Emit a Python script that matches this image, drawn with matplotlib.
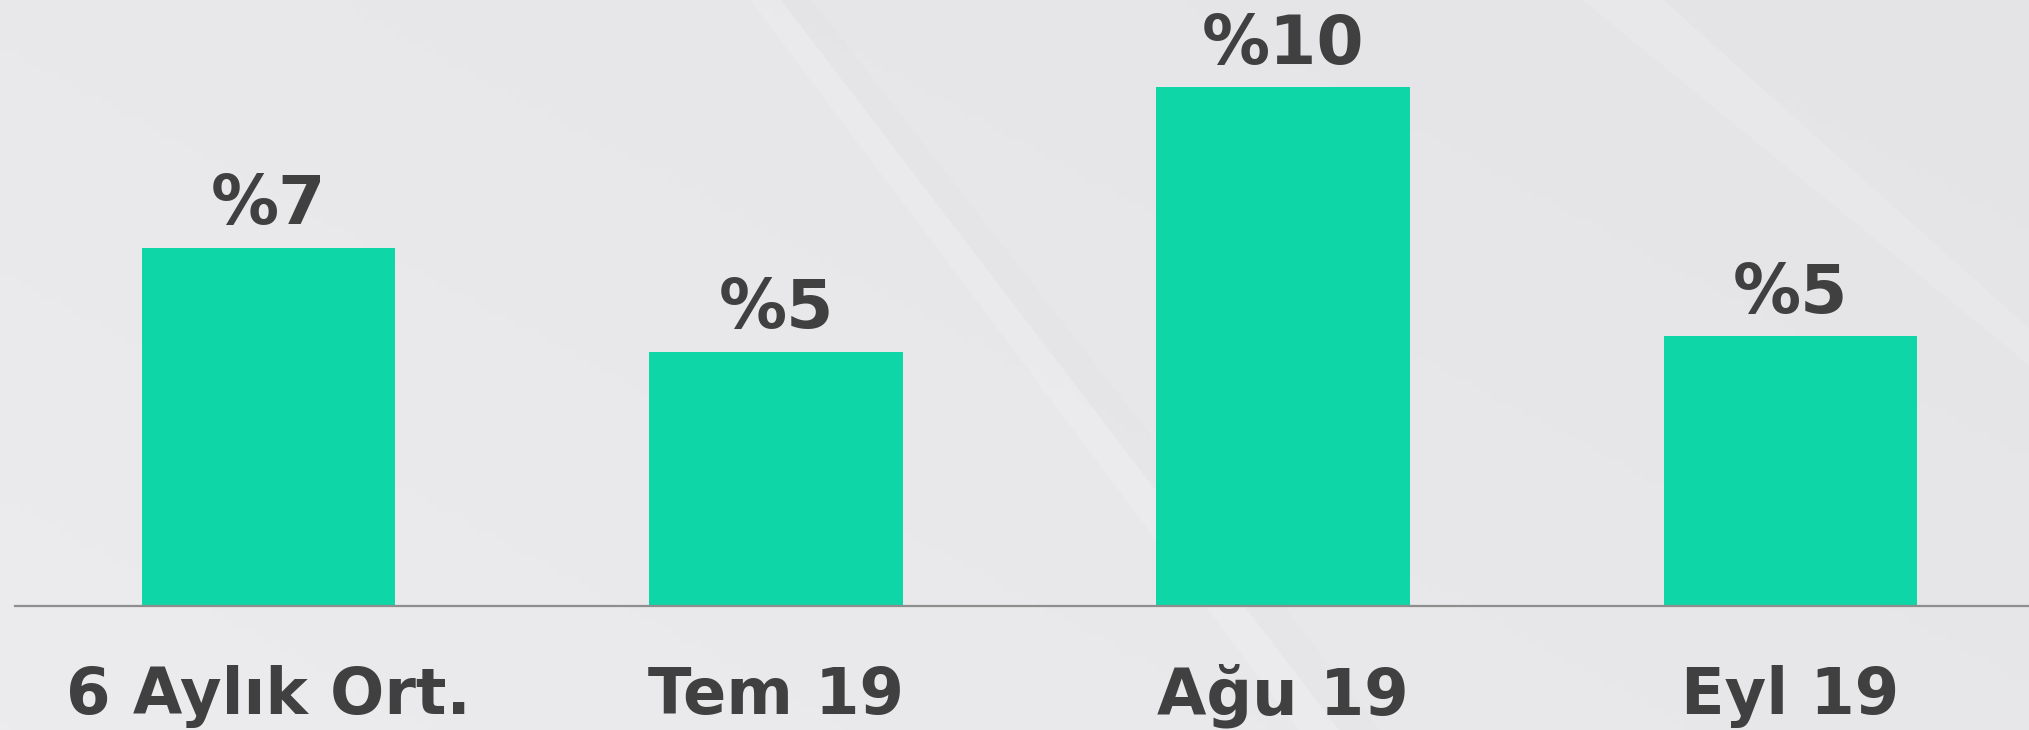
import numpy as np
import matplotlib
matplotlib.use("Agg")
import matplotlib.pyplot as plt

# data
categories = ["6 Aylık Ort.", "Tem 19", "Ağu 19", "Eyl 19"]
values = [6.9, 4.9, 10.0, 5.2]
value_labels = ["%7", "%5", "%10", "%5"]

BAR_COLOR = "#0fd6a7"
TEXT_COLOR = "#404040"
BG_COLOR = "#eaeaec"

plt.rcParams['font.family'] = ['DejaVu Sans']

fig = plt.figure(figsize=(20.29, 7.30), dpi=100)
fig.patch.set_facecolor(BG_COLOR)

# soft background: light grey gradient with faint diagonal bands
bg = fig.add_axes([0, 0, 1, 1])
bg.set_xlim(0, 1)
bg.set_ylim(0, 1)
bg.axis("off")
yy, xx = np.mgrid[0:1:100j, 0:1:200j]
light = np.array([236, 236, 238]) / 255
dark = np.array([228, 228, 231]) / 255
t = np.clip(0.6 * xx + 0.4 * yy, 0, 1)[..., None]
grad = light * (1 - t) + dark * t
bg.imshow(grad, extent=[0, 1, 0, 1], origin="lower", aspect="auto")
bg.fill([0.37, 0.385, 0.66, 0.64], [1, 1, 0, 0], color="white", alpha=0.15, lw=0)
bg.fill([0.385, 0.40, 0.68, 0.66], [1, 1, 0, 0], color="#d8d8dc", alpha=0.12, lw=0)
bg.fill([0.78, 0.82, 1.0, 1.0], [1, 1, 0.55, 0.50], color="white", alpha=0.15, lw=0)

ax = fig.add_axes([15 / 2029, 124 / 730, 1 - 15 / 2029, 606 / 730])
ax.set_facecolor("none")
x = np.arange(len(categories))
bars = ax.bar(x, values, width=0.5, color=BAR_COLOR, zorder=2)

ax.set_xlim(-0.5, 3.47)
ax.set_ylim(0, 11.68)

for rect, lab in zip(bars, value_labels):
    ax.annotate(lab, (rect.get_x() + rect.get_width() / 2, rect.get_height()),
                xytext=(0, 17), textcoords="offset points", ha="center",
                va="baseline", fontsize=49, fontweight="bold", color=TEXT_COLOR)

ax.set_xticks(x)
ax.set_xticklabels(categories, fontsize=46, fontweight="bold", color=TEXT_COLOR)
for lbl in ax.get_xticklabels():
    lbl.set_va("baseline")
ax.tick_params(axis="x", length=0, pad=78)
ax.set_yticks([])

for s in ["top", "right", "left"]:
    ax.spines[s].set_visible(False)
ax.spines["bottom"].set_color("#8e8e8e")
ax.spines["bottom"].set_linewidth(1.6)

fig.savefig("out.png", dpi=100, facecolor=fig.get_facecolor())
